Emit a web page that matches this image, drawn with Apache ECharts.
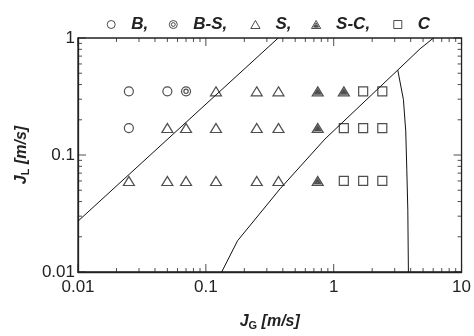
<!DOCTYPE html>
<html><head><meta charset="utf-8">
<script src="https://cdn.jsdelivr.net/npm/echarts@6/dist/echarts.min.js"></script>
<style>html,body{margin:0;padding:0;background:#fff}#c{width:474px;height:336px}</style>
</head><body><div id="c"></div>
<script>
// ---- data ----
const seriesNames = ['B,', 'B-S,', 'S,', 'S-C,', 'C'];
const bJG = [0.025, 0.05, 0.025];
const bJL = [0.35, 0.35, 0.17];
const bsJG = [0.07];
const bsJL = [0.35];
const sJG = [0.12, 0.25, 0.37, 0.05, 0.07, 0.12, 0.25, 0.37, 0.025, 0.05, 0.07, 0.12, 0.25, 0.37];
const sJL = [0.35, 0.35, 0.35, 0.17, 0.17, 0.17, 0.17, 0.17, 0.06, 0.06, 0.06, 0.06, 0.06, 0.06];
const scJG = [0.75, 1.2, 0.75, 0.75];
const scJL = [0.35, 0.35, 0.17, 0.06];
const cJG = [1.7, 2.4, 1.2, 1.7, 2.4, 1.2, 1.7, 2.4];
const cJL = [0.35, 0.35, 0.17, 0.17, 0.17, 0.06, 0.06, 0.06];
// transition boundaries
const line1JG = [0.01, 0.368];
const line1JL = [0.0272, 1];
const line2JG = [0.133, 0.177, 0.38, 0.855, 3.17, 4.74, 6.03];
const line2JL = [0.01, 0.0185, 0.0513, 0.137, 0.532, 0.809, 1];
const line3JG = [3.17, 3.51, 3.66, 3.73, 3.80, 3.84];
const line3JL = [0.532, 0.298, 0.160, 0.0755, 0.0338, 0.01];
// ticks
const majorTicksX = [0.01, 0.1, 1, 10];
const majorTicksY = [0.01, 0.1, 1];
const minorTicksX = [0.02,0.03,0.04,0.05,0.06,0.07,0.08,0.09,0.2,0.3,0.4,0.5,0.6,0.7,0.8,0.9,2,3,4,5,6,7,8,9];
const minorTicksY = [0.02,0.03,0.04,0.05,0.06,0.07,0.08,0.09,0.2,0.3,0.4,0.5,0.6,0.7,0.8,0.9];
const xMin = 0.01, xMax = 10, yMin = 0.01, yMax = 1;

const zip = (a, b) => a.map((v, i) => [v, b[i]]);
const ink = '#222';
const bullseye = 'path://M0,5A5,5 0 1,1 10,5A5,5 0 1,1 0,5ZM2.6,5A2.4,2.4 0 1,1 7.4,5A2.4,2.4 0 1,1 2.6,5Z';
const scTri = 'path://M5,0L10,8.66L0,8.66ZM5,2.6L7.7,7.2L2.3,7.2ZM5,4.6L6.4,6.6L3.6,6.6Z';
const circ = 'path://M0,5A5,5 0 1,1 10,5A5,5 0 1,1 0,5Z';
const tri = 'path://M5,0L10,8.66L0,8.66Z';
const sq = 'path://M0,0L10,0L10,10L0,10Z';

const chart = echarts.init(document.getElementById('c'), null, {renderer: 'canvas'});
const fontFam = 'Arial, "Liberation Sans", sans-serif';

const titleRich = {
  i: {fontSize: 16, fontWeight: 'bold', fontStyle: 'italic', fontFamily: fontFam, color: '#222'},
  s: {fontSize: 11, fontWeight: 'bold', fontFamily: fontFam, color: '#222', verticalAlign: 'bottom', padding: [8, 0, 0, 0]}
};

const xMain = {
  type: 'log', min: xMin, max: xMax, position: 'bottom',
  axisLine: {show: true, lineStyle: {color: ink, width: 1.3}},
  axisTick: {show: false},
  axisLabel: {show: true, fontSize: 17, color: '#222', fontFamily: fontFam, margin: 7},
  splitLine: {show: false},
  name: '{i|J}{s|G}{i| [m/s]}', nameLocation: 'middle', nameGap: 40, nameTextStyle: {rich: titleRich}
};
const yMain = {
  type: 'log', min: yMin, max: yMax, position: 'left',
  axisLine: {show: true, lineStyle: {color: ink, width: 1.3}},
  axisTick: {show: false},
  axisLabel: {show: true, fontSize: 17, color: '#222', fontFamily: fontFam, margin: 3},
  splitLine: {show: false},
  name: '{i|J}{s|L}{i| [m/s]}', nameLocation: 'middle', nameGap: 27, nameRotate: 90, nameTextStyle: {rich: titleRich}
};

// tick marks drawn as tiny scatter marks placed by the log scales
function tickSeries(data, size, offset) {
  return {type: 'scatter', data: data, symbol: 'rect', symbolSize: size, symbolOffset: offset,
    itemStyle: {color: ink}, silent: true, clip: false, z: 1, tooltip: {show: false}};
}
const tickSer = [
  tickSeries(majorTicksX.map(v => [v, yMin]), [1, 8], [0, -4]),
  tickSeries(minorTicksX.map(v => [v, yMin]), [1, 4], [0, -2]),
  tickSeries(majorTicksX.map(v => [v, yMax]), [1, 8], [0, 4]),
  tickSeries(minorTicksX.map(v => [v, yMax]), [1, 4], [0, 2]),
  tickSeries(majorTicksY.map(v => [xMin, v]), [8, 1], [4, 0]),
  tickSeries(minorTicksY.map(v => [xMin, v]), [4, 1], [2, 0]),
  tickSeries(majorTicksY.map(v => [xMax, v]), [8, 1], [-4, 0]),
  tickSeries(minorTicksY.map(v => [xMax, v]), [4, 1], [-2, 0])
];

const mk = {color: 'none', borderColor: ink, borderWidth: 1.2};
const legendIcons = [circ, bullseye, tri, scTri, sq];
const legendLeft = [99.7, 161.8, 243.3, 304, 386.3];
const legends = seriesNames.map((n, i) => ({
  left: legendLeft[i], top: 11, itemWidth: 30, itemHeight: 8, selectedMode: false,
  textStyle: {fontSize: 17, fontWeight: 'bold', fontStyle: 'italic', fontFamily: fontFam, color: '#222'},
  data: [{name: n, icon: legendIcons[i], itemStyle: {color: 'none', borderColor: ink, borderWidth: 1}}]
}));

chart.setOption({
  animation: false,
  grid: {left: 78, right: 12, top: 38, bottom: 52, show: true, borderColor: ink, borderWidth: 1.3, backgroundColor: 'transparent'},
  legend: legends,
  xAxis: xMain,
  yAxis: yMain,
  series: tickSer.concat([
    {type: 'line', data: zip(line1JG, line1JL), showSymbol: false, symbol: 'none', lineStyle: {color: '#111', width: 1}, silent: true},
    {type: 'line', data: zip(line2JG, line2JL), showSymbol: false, symbol: 'none', lineStyle: {color: '#111', width: 1}, silent: true},
    {type: 'line', data: zip(line3JG, line3JL), showSymbol: false, symbol: 'none', lineStyle: {color: '#111', width: 1}, silent: true},
    {name: 'B,', type: 'scatter', data: zip(bJG, bJL), symbol: circ, symbolSize: 9, itemStyle: mk},
    {name: 'B-S,', type: 'scatter', data: zip(bsJG, bsJL), symbol: bullseye, symbolSize: 9, itemStyle: mk},
    {name: 'S,', type: 'scatter', data: zip(sJG, sJL), symbol: tri, symbolSize: [11, 9], itemStyle: mk},
    {name: 'S-C,', type: 'scatter', data: zip(scJG, scJL), symbol: scTri, symbolSize: [11, 9], itemStyle: mk},
    {name: 'C', type: 'scatter', data: zip(cJG, cJL), symbol: sq, symbolSize: 9, itemStyle: mk}
  ])
});
</script></body></html>
